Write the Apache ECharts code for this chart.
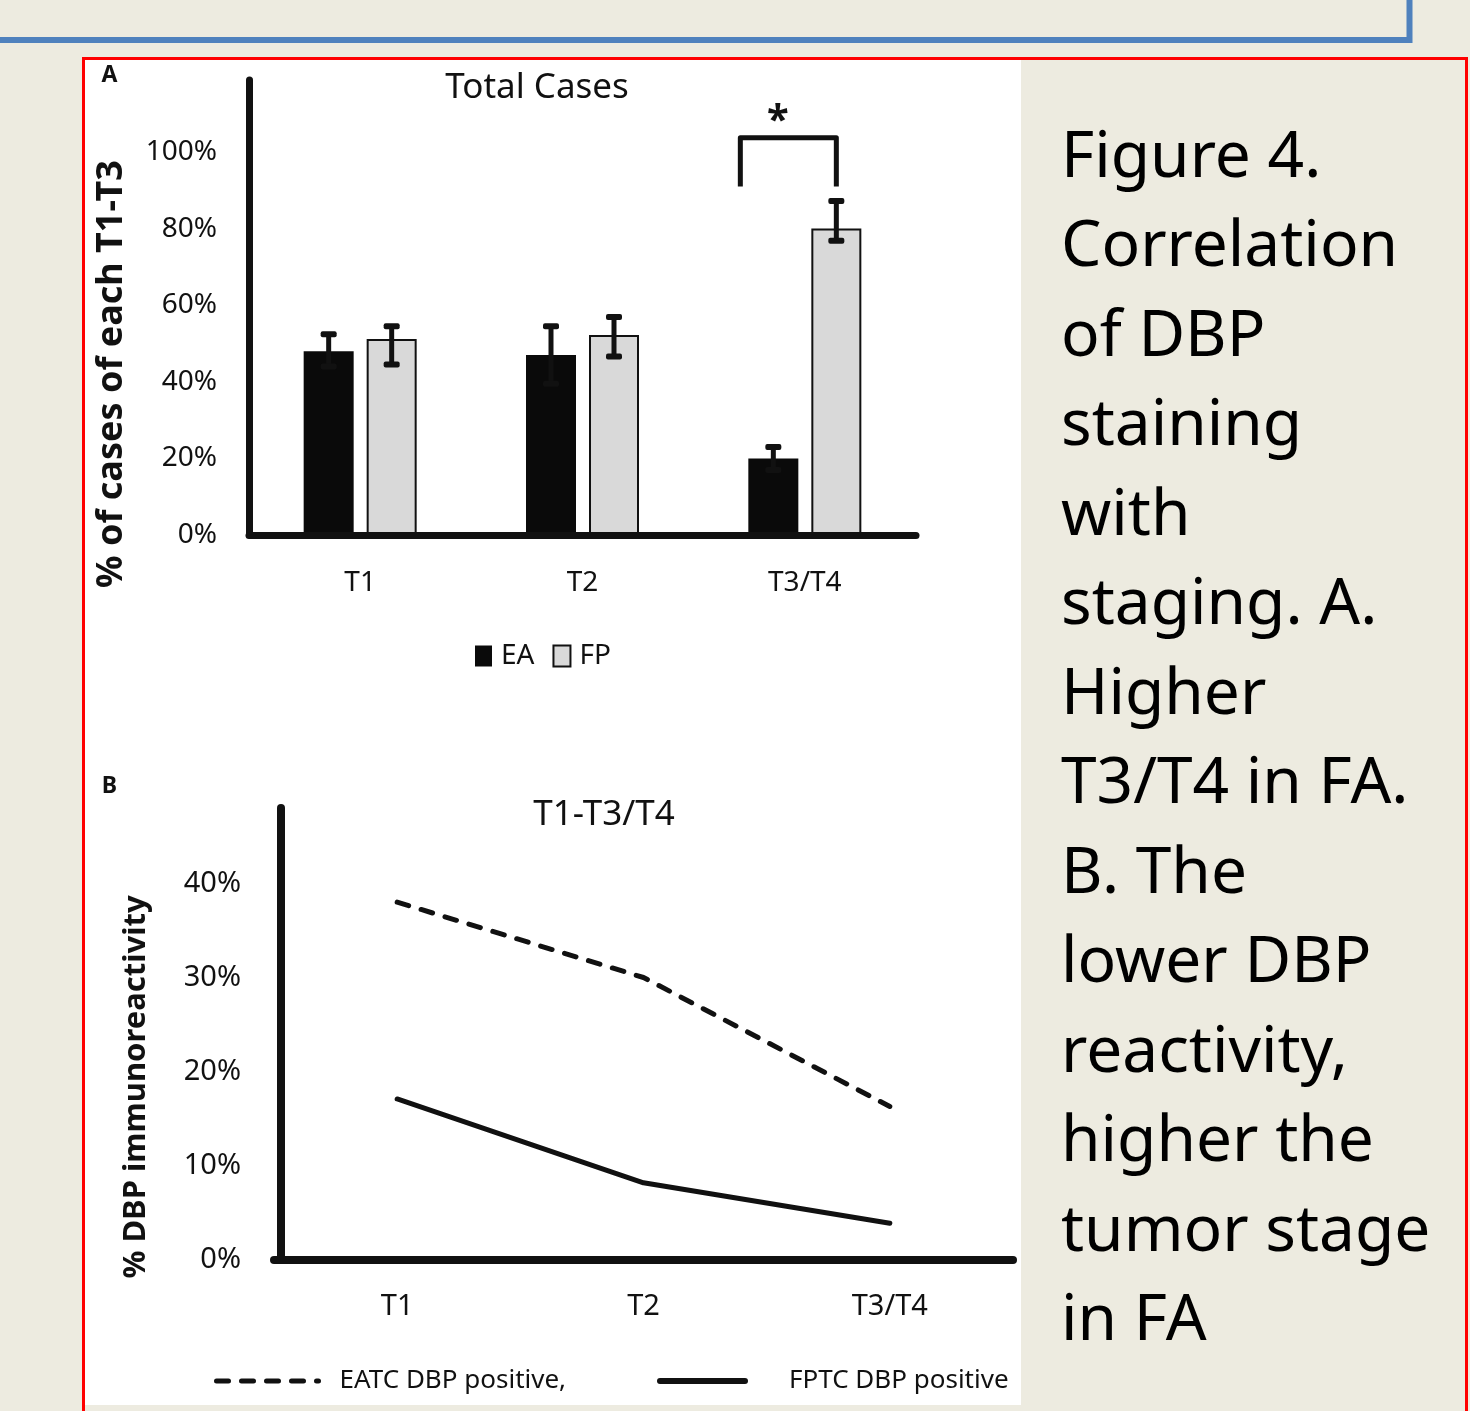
<!DOCTYPE html>
<html><head><meta charset="utf-8">
<script src="https://cdn.jsdelivr.net/npm/echarts@6/dist/echarts.min.js"></script>
<style>html,body{margin:0;padding:0;background:#EDEBE0;} #c{width:1470px;height:1411px;}</style>
</head><body><div id="c"></div>
<script>
// ---------- DATA ----------
const categoriesA = ['T1', 'T2', 'T3/T4'];
const seriesNamesA = ['EA', 'FP'];
const eaValues = [48, 47, 20];
const fpValues = [51.2, 52.2, 80];
const eaErrLow = [44, 39.5, 17];
const eaErrHigh = [52.4, 54.5, 23];
const fpErrLow = [44.5, 46.6, 76.8];
const fpErrHigh = [54.5, 56.9, 87.2];
const sigCategory = [2];
const sigLegBottom = [91];
const sigTop = [103.7];
const sigStarLevel = [108];
const sigLabel = ['*'];
const yMaxA = 118.8;
const yTickMaxA = 100;

const categoriesB = ['T1', 'T2', 'T3/T4'];
const seriesNamesB = ['EATC DBP positive,', 'FPTC DBP positive'];
const eatcValues = [38, 30, 16.3];
const fptcValues = [17.1, 8.2, 3.9];
const yMaxB = 48;
const yTickMaxB = 40;

const captionLines = ['Figure 4.', 'Correlation', 'of DBP', 'staining', 'with', 'staging. A.', 'Higher',
  'T3/T4 in FA.', 'B. The', 'lower DBP', 'reactivity,', 'higher the', 'tumor stage', 'in FA'];

// ---------- STYLE ----------
const INK = '#111';
const FONT = 'Noto Sans';
const BAR_W = 50, BAR_GAP = 13;
const OFF = (BAR_W + BAR_GAP) / 2;
const DASH = [12, 13];

function errRender(offset) {
  return function (params, api) {
    const c = api.value(0);
    const lo = api.coord([c, api.value(1)]);
    const hi = api.coord([c, api.value(2)]);
    const x = lo[0] + offset;
    const capW = 16, capH = 6, stemW = 5;
    return {
      type: 'group', children: [
        { type: 'rect', shape: { x: x - stemW / 2, y: hi[1], width: stemW, height: lo[1] - hi[1] }, style: { fill: INK } },
        { type: 'rect', shape: { x: x - capW / 2, y: hi[1] - capH / 2, width: capW, height: capH, r: 2 }, style: { fill: INK } },
        { type: 'rect', shape: { x: x - capW / 2, y: lo[1] - capH / 2, width: capW, height: capH, r: 2 }, style: { fill: INK } }
      ]
    };
  };
}

function sigRender(params, api) {
  const c = api.value(0);
  const legP = api.coord([c, api.value(1)]);
  const topP = api.coord([c, api.value(2)]);
  const starP = api.coord([c, api.value(3)]);
  const left = legP[0] - OFF - BAR_W / 2 - 8;
  const right = legP[0] + OFF;
  return {
    type: 'group', children: [
      { type: 'polyline', shape: { points: [[left, legP[1]], [left, topP[1]], [right, topP[1]], [right, legP[1]]] },
        style: { stroke: INK, lineWidth: 5, fill: null, lineJoin: 'round' } },
      { type: 'text', x: legP[0] - 27, y: starP[1], style: { text: sigLabel[params.dataIndex], fontSize: 40, fontWeight: 'bold', fontFamily: FONT, fill: INK, align: 'center', verticalAlign: 'middle' } }
    ]
  };
}

const chart = echarts.init(document.getElementById('c'), null, { renderer: 'canvas' });

function txt(x, y, text, size, weight, extra) {
  return Object.assign({ type: 'text', x: x, y: y,
    style: { text: text, fontSize: size, fontWeight: weight, fontFamily: FONT, fill: INK, align: 'center', verticalAlign: 'middle' } }, extra || {});
}

const option = {
  backgroundColor: '#EDEBE0',
  animation: false,
  textStyle: { fontFamily: FONT, color: INK },
  graphic: [
    { type: 'rect', z: -10, shape: { x: 85, y: 60, width: 936, height: 1345 }, style: { fill: '#fff' } },
    { type: 'rect', z: -5, shape: { x: -10, y: -10, width: 1419.5, height: 50 }, style: { fill: null, stroke: '#4F81BD', lineWidth: 6 } },
    { type: 'rect', z: -5, shape: { x: 83.5, y: 58.5, width: 1383, height: 1400 }, style: { fill: null, stroke: '#FF0000', lineWidth: 3 } },
    txt(109.5, 75, 'A', 23, 'bold'),
    txt(109.5, 786, 'B', 23, 'bold'),
    txt(537, 88, 'Total Cases', 35, 'normal'),
    txt(604, 815, 'T1-T3/T4', 35, 'normal'),
    txt(112, 374, '% of cases of each T1-T3', 36, 'bold', { rotation: Math.PI / 2 }),
    txt(136, 1087, '% DBP immunoreactivity', 31, 'bold', { rotation: Math.PI / 2 }),
    { type: 'text', x: 1061, y: 114, style: { text: captionLines.join('\n'), fontSize: 64, fontFamily: FONT, lineHeight: 89.5, fill: '#000', align: 'left', verticalAlign: 'top' } }
  ],
  legend: [
    { data: seriesNamesA, left: 475, top: 642, padding: 0, itemWidth: 17, itemHeight: 21, itemGap: 18, selectedMode: false, icon: 'rect',
      textStyle: { fontSize: 28, color: INK, fontFamily: FONT, padding: [0, 0, 0, 4] } },
    { data: [seriesNamesB[0]], left: 214, top: 1368, padding: 0, itemWidth: 102, itemHeight: 20, selectedMode: false,
      itemStyle: { opacity: 0, borderWidth: 0 }, lineStyle: { width: 5, type: DASH, color: INK },
      textStyle: { fontSize: 26, color: INK, fontFamily: FONT, padding: [0, 0, 0, 16] } },
    { data: [seriesNamesB[1]], left: 657, top: 1368, padding: 0, itemWidth: 85, itemHeight: 20, selectedMode: false,
      itemStyle: { opacity: 0, borderWidth: 0 }, lineStyle: { width: 6, color: INK },
      textStyle: { fontSize: 26, color: INK, fontFamily: FONT, padding: [0, 0, 0, 39] } }
  ],
  grid: [
    { left: 249, top: 80, width: 667, height: 455 },
    { left: 274, top: 808, width: 739, height: 452 }
  ],
  xAxis: [
    { type: 'category', gridIndex: 0, data: categoriesA, z: 3,
      axisLine: { show: true, lineStyle: { color: INK, width: 7 } }, axisTick: { show: false },
      axisLabel: { fontSize: 28, color: INK, margin: 34, fontFamily: FONT } },
    { type: 'category', gridIndex: 1, data: categoriesB, z: 3,
      axisLine: { show: true, lineStyle: { color: INK, width: 8 } }, axisTick: { show: false },
      axisLabel: { fontSize: 29, color: INK, margin: 32, fontFamily: FONT } }
  ],
  yAxis: [
    { type: 'value', gridIndex: 0, min: 0, max: yMaxA, interval: 20, z: 3,
      axisLine: { show: true, lineStyle: { color: INK, width: 7 } }, axisTick: { show: false }, splitLine: { show: false },
      axisLabel: { fontSize: 28, color: INK, margin: 32, fontFamily: FONT, formatter: v => v > yTickMaxA ? '' : v + '%' } },
    { type: 'value', gridIndex: 1, min: 0, max: yMaxB, interval: 10, offset: -7, z: 3,
      axisLine: { show: true, lineStyle: { color: INK, width: 8 } }, axisTick: { show: false }, splitLine: { show: false },
      axisLabel: { fontSize: 29, color: INK, margin: 40, fontFamily: FONT, formatter: v => v > yTickMaxB ? '' : v + '%' } }
  ],
  series: [
    { name: seriesNamesA[0], type: 'bar', xAxisIndex: 0, yAxisIndex: 0, data: eaValues, barWidth: BAR_W, barGap: (BAR_GAP / BAR_W * 100) + '%',
      itemStyle: { color: '#0a0a0a' } },
    { name: seriesNamesA[1], type: 'bar', xAxisIndex: 0, yAxisIndex: 0, data: fpValues, barWidth: BAR_W,
      itemStyle: { color: '#D9D9D9', borderColor: INK, borderWidth: 2 } },
    { type: 'custom', xAxisIndex: 0, yAxisIndex: 0, renderItem: errRender(-OFF),
      data: categoriesA.map((c, i) => [i, eaErrLow[i], eaErrHigh[i]]), encode: { x: 0, y: [1, 2] }, z: 4 },
    { type: 'custom', xAxisIndex: 0, yAxisIndex: 0, renderItem: errRender(OFF),
      data: categoriesA.map((c, i) => [i, fpErrLow[i], fpErrHigh[i]]), encode: { x: 0, y: [1, 2] }, z: 4 },
    { type: 'custom', xAxisIndex: 0, yAxisIndex: 0, renderItem: sigRender,
      data: sigCategory.map((c, i) => [c, sigLegBottom[i], sigTop[i], sigStarLevel[i]]), encode: { x: 0, y: [1, 2, 3] }, z: 4 },
    { name: seriesNamesB[0], type: 'line', xAxisIndex: 1, yAxisIndex: 1, data: eatcValues, symbol: 'none', showSymbol: false,
      itemStyle: { color: INK }, lineStyle: { color: INK, width: 5, type: DASH, cap: 'round' } },
    { name: seriesNamesB[1], type: 'line', xAxisIndex: 1, yAxisIndex: 1, data: fptcValues, symbol: 'none', showSymbol: false,
      itemStyle: { color: INK }, lineStyle: { color: INK, width: 5, cap: 'round' } }
  ]
};
chart.setOption(option);
</script>
</body></html>
